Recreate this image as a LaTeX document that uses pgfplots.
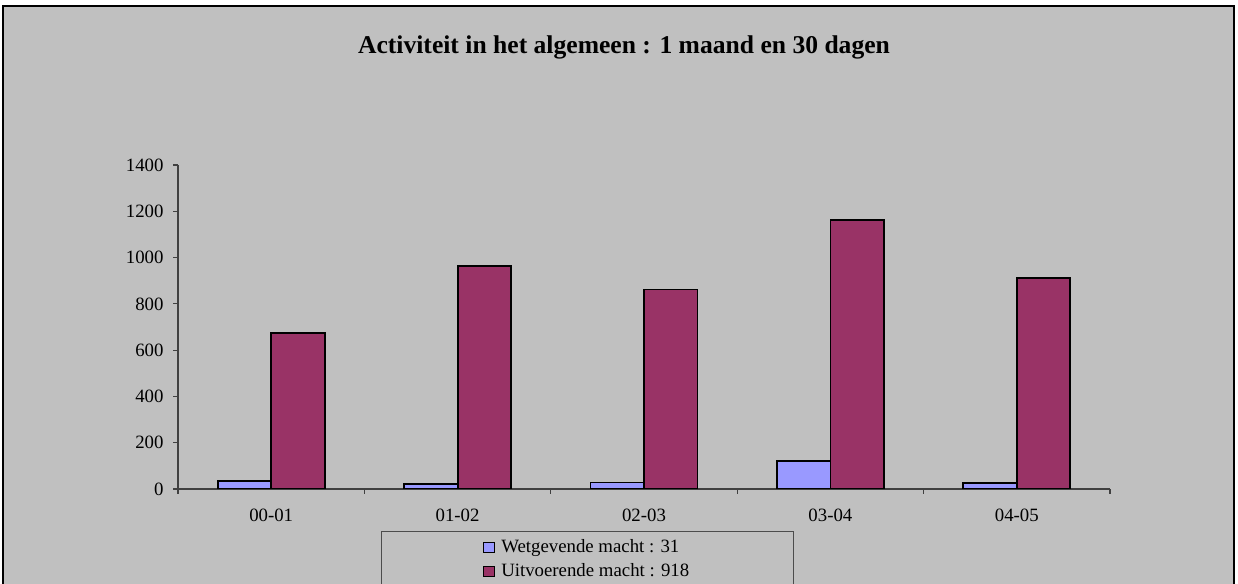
\documentclass[border=0pt]{standalone}
\usepackage{fontspec}
\setmainfont{Liberation Serif}
\usepackage{pgfplots}
\pgfplotsset{compat=1.18}
\definecolor{bgray}{HTML}{C0C0C0}
\definecolor{wetg}{HTML}{9999FF}
\definecolor{uitv}{HTML}{993366}

\begin{document}
\begin{tikzpicture}
\useasboundingbox (0,0) rectangle (619pt,292pt);
% chart area and frame
\fill[bgray] (1.5pt,289pt) rectangle (617pt,-10pt);
\draw[line width=1pt] (1.5pt,-10pt) -- (1.5pt,289pt) -- (617pt,289pt) -- (617pt,-10pt);
\node[font=\fontsize{12.8}{15}\selectfont\bfseries] at (312pt,268.5pt)
  {Activiteit in het algemeen : 1 maand en 30 dagen};
% legend frame
\draw[black!70, line width=0.5pt] (190.5pt,26pt) rectangle (396.5pt,-20pt);
\begin{axis}[
  at={(89pt,47.5pt)}, anchor=south west,
  scale only axis, width=466pt, height=162pt,
  xmin=-0.5, xmax=4.5, ymin=0, ymax=1400,
  ybar=0pt, bar width=26.75pt,
  axis lines=left,
  axis line style={-, black!75, line width=0.6pt},
  tick align=outside,
  tick style={black!75, line width=0.6pt},
  major tick length=2.5pt, minor tick length=2.5pt,
  ytick={0,200,...,1400},
  xtick={0,...,4},
  xticklabels={00-01,01-02,02-03,03-04,04-05},
  minor xtick={-0.5,0.5,...,4.5},
  major x tick style={draw=none},
  ticklabel style={font=\fontsize{9.4}{11}\selectfont},
  yticklabel style={xshift=-1.2pt},
  xticklabel style={yshift=-4pt},
  /pgf/number format/assume math mode=true,
  /pgf/number format/1000 sep={},
  legend style={draw=none, fill=none, at={(0.3205,-0.13)}, anchor=north west,
    font=\fontsize{9.4}{11}\selectfont, row sep=0pt},
  legend cell align=left,
  legend image code/.code={%
    \draw[#1, draw=black, line width=0.6pt] (0pt,-2.6pt) rectangle (5.2pt,2.6pt);
    \path[draw=none, fill=none] (0pt,0pt) rectangle (6.8pt,0pt);},
]
\addplot[fill=wetg, draw=black, line width=0.9pt] coordinates {(0,36) (1,22) (2,28) (3,121) (4,27)};
\addplot[fill=uitv, draw=black, line width=0.9pt] coordinates {(0,674) (1,964) (2,862) (3,1163) (4,913)};
\legend{Wetgevende macht : 31, Uitvoerende macht : 918}
\end{axis}
\end{tikzpicture}
\end{document}
